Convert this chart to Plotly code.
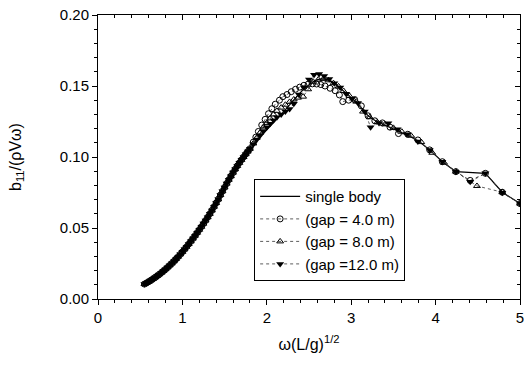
import plotly.graph_objects as go

# shared low-frequency part (all series coincide)
x_low = [0.550, 0.575, 0.600, 0.625, 0.650, 0.675, 0.700, 0.725, 0.750, 0.775,
         0.800, 0.825, 0.850, 0.875, 0.900, 0.925, 0.950, 0.975, 1.000, 1.025,
         1.050, 1.075, 1.100, 1.125, 1.150, 1.175, 1.200, 1.225, 1.250, 1.275,
         1.300, 1.325, 1.350, 1.375, 1.400, 1.425, 1.450, 1.475, 1.500, 1.525,
         1.550, 1.575, 1.600, 1.625, 1.650, 1.675, 1.700, 1.725, 1.750, 1.775, 1.800]
y_low = [0.0105, 0.0113, 0.0122, 0.0131, 0.0141, 0.0151, 0.0162, 0.0173, 0.0185, 0.0197,
         0.0210, 0.0223, 0.0237, 0.0251, 0.0266, 0.0282, 0.0298, 0.0315, 0.0332, 0.0350,
         0.0368, 0.0387, 0.0406, 0.0426, 0.0446, 0.0467, 0.0488, 0.0509, 0.0531, 0.0553,
         0.0576, 0.0600, 0.0624, 0.0650, 0.0676, 0.0702, 0.0732, 0.0759, 0.0786, 0.0813,
         0.0840, 0.0865, 0.0890, 0.0914, 0.0937, 0.0959, 0.0980, 0.1000, 0.1020, 0.1039, 0.1058]

# single body
x_sb = [1.85, 1.90, 1.95, 2.00, 2.05, 2.10, 2.15, 2.20, 2.25, 2.30, 2.35, 2.40, 2.45, 2.50,
        2.55, 2.60, 2.65, 2.70, 2.75, 2.80, 2.85, 2.90, 2.95, 3.00, 3.05, 3.10, 3.15, 3.20,
        3.30, 3.40, 3.50, 3.60, 3.70, 3.80, 3.93, 4.08, 4.24, 4.59, 4.79, 5.00]
y_sb = [0.1095, 0.1130, 0.1162, 0.1192, 0.1222, 0.1255, 0.1288, 0.1320, 0.1355, 0.1390,
        0.1423, 0.1455, 0.1485, 0.1510, 0.1530, 0.1545, 0.1550, 0.1547, 0.1535, 0.1517,
        0.1495, 0.1470, 0.1445, 0.1418, 0.1390, 0.1360, 0.1325, 0.1290, 0.1250, 0.1225,
        0.1200, 0.1170, 0.1145, 0.1110, 0.1050, 0.0967, 0.0897, 0.0885, 0.0752, 0.0672]

# gap = 4.0 m
x_g4 = [1.84, 1.87, 1.90, 1.94, 1.98, 2.02, 2.06, 2.10, 2.15, 2.19, 2.24, 2.29, 2.34, 2.39,
        2.44, 2.49, 2.54, 2.59, 2.64, 2.69, 2.75, 2.81, 2.86, 2.90, 2.97, 3.04, 3.12, 3.20,
        3.28, 3.37, 3.46, 3.56, 3.67, 3.79, 3.93, 4.08, 4.24, 4.41, 4.59, 4.79, 5.00]
y_g4 = [0.1105, 0.1140, 0.1180, 0.1225, 0.1265, 0.1305, 0.1340, 0.1372, 0.1400, 0.1425,
        0.1440, 0.1460, 0.1477, 0.1492, 0.1505, 0.1513, 0.1515, 0.1514, 0.1510, 0.1500,
        0.1484, 0.1467, 0.1437, 0.1390, 0.1400, 0.1405, 0.1360, 0.1290, 0.1255, 0.1240,
        0.1210, 0.1165, 0.1160, 0.1120, 0.1050, 0.0967, 0.0897, 0.0835, 0.0885, 0.0752, 0.0672]

# gap = 8.0 m
x_g8 = [1.84, 1.88, 1.92, 1.96, 2.00, 2.04, 2.08, 2.12, 2.17, 2.22, 2.27, 2.32, 2.37, 2.43,
        2.49, 2.55, 2.61, 2.67, 2.73, 2.79, 2.85, 2.91, 2.98, 3.06, 3.14, 3.22, 3.31, 3.40,
        3.50, 3.60, 3.71, 3.83, 3.96, 4.10, 4.24, 4.49, 4.79, 5.00]
y_g8 = [0.1095, 0.1135, 0.1172, 0.1208, 0.1240, 0.1272, 0.1300, 0.1325, 0.1348, 0.1368,
        0.1388, 0.1405, 0.1418, 0.1425, 0.1477, 0.1530, 0.1545, 0.1550, 0.1540, 0.1520,
        0.1497, 0.1465, 0.1430, 0.1390, 0.1320, 0.1280, 0.1245, 0.1230, 0.1205, 0.1178,
        0.1150, 0.1105, 0.1030, 0.0960, 0.0897, 0.0796, 0.0752, 0.0672]

# gap = 12.0 m
x_g12 = [1.84, 1.88, 1.92, 1.96, 2.00, 2.04, 2.08, 2.12, 2.17, 2.22, 2.27, 2.32, 2.38, 2.44,
         2.50, 2.56, 2.62, 2.68, 2.74, 2.80, 2.87, 2.94, 3.01, 3.08, 3.16, 3.23, 3.33, 3.44,
         3.55, 3.66, 3.79, 3.93, 4.08, 4.24, 4.41, 4.59, 4.79, 5.00]
y_g12 = [0.1090, 0.1122, 0.1152, 0.1182, 0.1210, 0.1235, 0.1258, 0.1280, 0.1300, 0.1320,
         0.1338, 0.1375, 0.1440, 0.1490, 0.1545, 0.1580, 0.1585, 0.1570, 0.1550, 0.1520,
         0.1490, 0.1445, 0.1410, 0.1380, 0.1320, 0.1210, 0.1240, 0.1237, 0.1195, 0.1160,
         0.1110, 0.1050, 0.0967, 0.0897, 0.0826, 0.0885, 0.0749, 0.0672]

names = ["single body", "(gap = 4.0 m)", "(gap = 8.0 m)", "(gap =12.0 m)"]

fig = go.Figure()
fig.add_trace(go.Scatter(x=x_low + x_sb, y=y_low + y_sb, mode="lines", name=names[0],
                         line=dict(color="black", width=1.2)))
fig.add_trace(go.Scatter(x=x_low + x_g4, y=y_low + y_g4, mode="lines+markers", name=names[1],
                         line=dict(color="#333333", width=0.8, dash="dot"),
                         marker=dict(symbol="circle-open", size=6, color="black",
                                     line=dict(width=1, color="black"))))
fig.add_trace(go.Scatter(x=x_low + x_g8, y=y_low + y_g8, mode="lines+markers", name=names[2],
                         line=dict(color="#333333", width=0.8, dash="dot"),
                         marker=dict(symbol="triangle-up-open", size=6, color="black",
                                     line=dict(width=1, color="black"))))
fig.add_trace(go.Scatter(x=x_low + x_g12, y=y_low + y_g12, mode="lines+markers", name=names[3],
                         line=dict(color="#333333", width=0.8, dash="dot"),
                         marker=dict(symbol="triangle-down", size=7, color="black")))
# invisible trace to anchor mirrored axes (top/right, inward ticks)
fig.add_trace(go.Scatter(x=[None], y=[None], xaxis="x2", yaxis="y2", showlegend=False,
                         hoverinfo="skip"))

axis_common = dict(showline=True, linecolor="black", linewidth=1, mirror=True,
                   ticks="outside", ticklen=5, tickwidth=1, tickcolor="black",
                   showgrid=False, zeroline=False, automargin=False,
                   ticklabeloverflow="allow",
                   tickfont=dict(size=15, color="black"))

fig.update_layout(
    xaxis=dict(range=[0, 5], dtick=1, tick0=0,
               minor=dict(dtick=0.2, ticks="outside", ticklen=3, tickcolor="black"),
               title=dict(text="ω(L/g)<sup>1/2</sup>", font=dict(size=16, color="black"), standoff=13),
               **axis_common),
    yaxis=dict(range=[0, 0.2], dtick=0.05, tick0=0, tickformat=".2f",
               minor=dict(dtick=0.01, ticks="outside", ticklen=3, tickcolor="black"),
               title=dict(text="b<sub>11</sub>/(ρVω)", font=dict(size=16, color="black"), standoff=34),
               **axis_common),
    xaxis2=dict(overlaying="x", side="top", range=[0, 5], dtick=1, tick0=0,
                ticks="inside", ticklen=5, tickcolor="black", showticklabels=False,
                minor=dict(dtick=0.2, ticks="inside", ticklen=3, tickcolor="black"),
                showgrid=False, zeroline=False, showline=False, automargin=False),
    yaxis2=dict(overlaying="y", side="right", range=[0, 0.2], dtick=0.05, tick0=0,
                ticks="inside", ticklen=5, tickcolor="black", showticklabels=False,
                minor=dict(dtick=0.01, ticks="inside", ticklen=3, tickcolor="black"),
                showgrid=False, zeroline=False, showline=False, automargin=False),
    width=524, height=365,
    margin=dict(l=98, r=4, t=15, b=66),
    paper_bgcolor="white", plot_bgcolor="white",
    font=dict(family="Liberation Sans, Arial, sans-serif", color="black"),
    legend=dict(x=0.37, y=0.422, xanchor="left", yanchor="top",
                bordercolor="black", borderwidth=1, bgcolor="white",
                font=dict(size=15, color="black"), tracegroupgap=0,
                itemwidth=40),
)

fig.write_html("out.html")
